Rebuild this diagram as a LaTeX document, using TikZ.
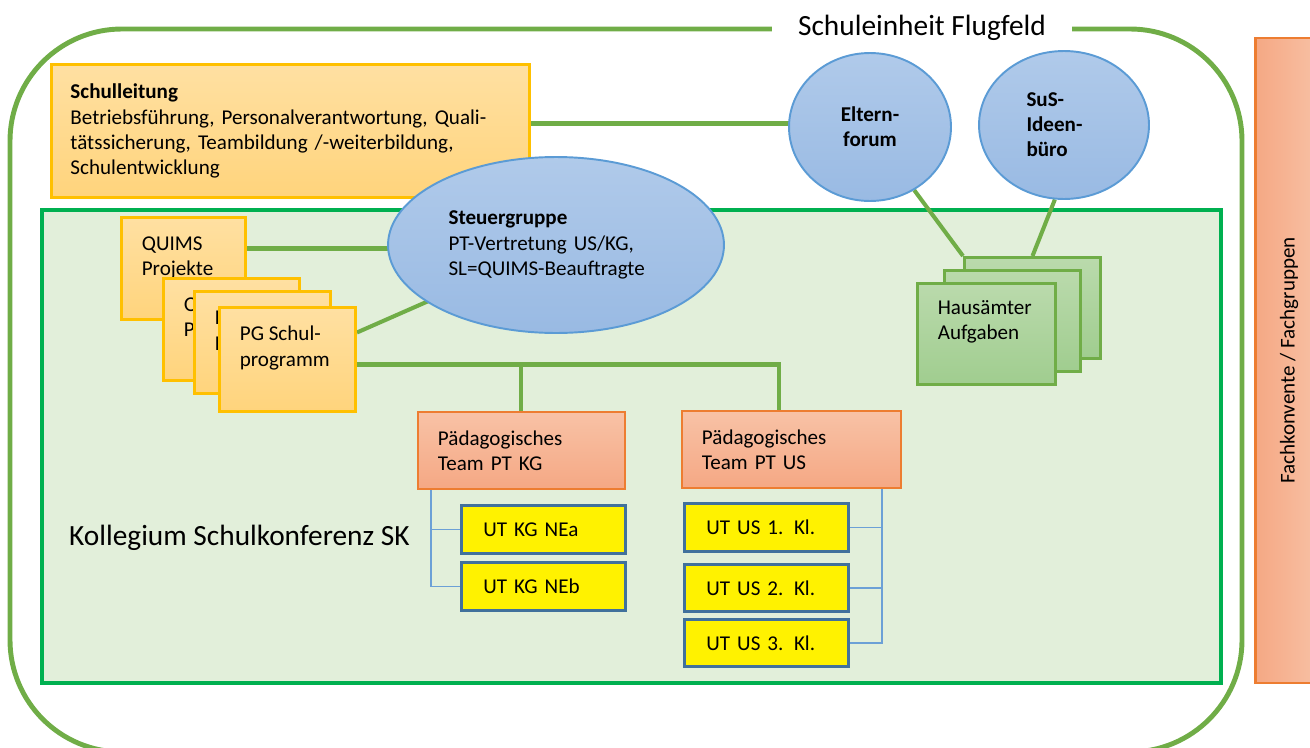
\documentclass[tikz,border=0pt]{standalone}
\usepackage{fontspec}
\setmainfont{Carlito}
\usetikzlibrary{shapes.geometric, positioning, calc}

\definecolor{framegreen}{RGB}{112,173,71}
\definecolor{innergreen}{RGB}{0,176,80}
\definecolor{innerfill}{RGB}{226,239,218}
\definecolor{boxorange}{RGB}{255,192,0}
\definecolor{orangetop}{RGB}{255,224,162}
\definecolor{orangebot}{RGB}{255,212,124}
\definecolor{ellblue}{RGB}{91,155,213}
\definecolor{elltop}{RGB}{176,202,234}
\definecolor{ellbot}{RGB}{153,186,227}
\definecolor{hgreentop}{RGB}{186,218,172}
\definecolor{hgreenbot}{RGB}{160,205,143}
\definecolor{salmonline}{RGB}{237,125,49}
\definecolor{salmontop}{RGB}{248,194,166}
\definecolor{salmonbot}{RGB}{245,168,132}
\definecolor{utline}{RGB}{65,113,156}
\definecolor{linkblue}{RGB}{108,160,214}

\newcommand{\basefont}{\fontsize{12}{14.3}\selectfont}
\newcommand{\bigfont}{\fontsize{16.7}{19}\selectfont}

\pgfdeclarelayer{bg}
\pgfdeclarelayer{links}
\pgfsetlayers{bg,links,main}

\tikzset{
  conn/.style={draw=framegreen, line width=2.3pt},
  tlink/.style={draw=linkblue, line width=0.9pt},
  orangebox/.style={draw=boxorange, line width=1.7pt, top color=orangetop,
    bottom color=orangebot, anchor=north west, inner sep=0pt},
  qbox/.style={orangebox, minimum width=2.72cm, minimum height=2.04cm},
  hbox/.style={draw=framegreen, line width=1.7pt, top color=hgreentop,
    bottom color=hgreenbot, anchor=north west, inner sep=0pt,
    minimum width=2.72cm, minimum height=2.02cm},
  boxlbl/.style={anchor=north west, align=left, inner sep=0pt,
    xshift=0.43cm, yshift=-0.4cm},
  bubble/.style={ellipse, draw=ellblue, line width=1.1pt, top color=elltop,
    bottom color=ellbot, inner sep=0pt},
  ptbox/.style={draw=salmonline, line width=1.1pt, top color=salmontop,
    bottom color=salmonbot, anchor=north west, align=left,
    minimum height=1.54cm, inner sep=0pt},
  utbox/.style={draw=utline, line width=1.6pt, fill=yellow, anchor=north west,
    align=left, minimum width=3.28cm, minimum height=0.96cm, inner sep=0pt,
    text width=2.4cm}
}

\begin{document}
\begin{tikzpicture}[x=0.02cm, y=-0.02cm, font=\basefont]
\useasboundingbox (0,0) rectangle (1310,747);

% Schulleitung und Gremien
\node[orangebox, minimum width=9.56cm, minimum height=2.66cm, text width=8.8cm,
      align=left] (sl) at (50,63)
  {\textbf{Schulleitung}\\Betriebsführung, Personalverantwortung, Quali-\\tätssicherung, Teambildung /-weiterbildung,\\Schulentwicklung};
\node[bubble, minimum width=6.72cm, minimum height=3.52cm, text width=4.3cm,
      align=left] (steuer) at (556,245)
  {\textbf{Steuergruppe}\\PT-Vertretung US/KG,\\SL=QUIMS-Beauftragte};
\node[bubble, minimum width=3.24cm, minimum height=2.96cm, align=center,
      font=\basefont\bfseries] (eltern) at (870,127) {Eltern-\\forum};
\node[bubble, minimum width=3.4cm, minimum height=2.96cm, text width=1.5cm,
      align=left, font=\basefont\bfseries] (sus) at (1064,125) {SuS-\\Ideen-\\büro};

% Projektgruppen
\node[qbox, minimum width=2.48cm, label={[boxlbl]north west:QUIMS\\Projekte}] (q1) at (120,216) {};
\node[qbox, label={[boxlbl]north west:QUIMS\\Projekte}] (q2) at (162,277) {};
\node[qbox, label={[boxlbl]north west:PG Schul-\\Programm}] (q3) at (193,290) {};
\node[qbox, minimum height=2.08cm, label={[boxlbl]north west:PG Schul-\\programm}] (q4) at (218,306) {};

% Hausaemter
\node[hbox] (h3) at (963,256) {};
\node[hbox] (h2) at (943,269) {};
\node[hbox, minimum width=2.76cm, label={[boxlbl, yshift=0.04cm]north west:Hausämter\\Aufgaben}] (h1) at (916,282) {};

% Paedagogische Teams
\node[ptbox, minimum width=4.14cm, text width=3.34cm] (ptkg) at (417,411) {Pädagogisches\\Team PT KG};
\node[ptbox, minimum width=4.38cm, text width=3.58cm] (ptus) at (681,410) {Pädagogisches\\Team PT US};

\node[utbox] (nea) at (460,504) {UT KG NEa};
\node[utbox] (neb) at (460,561) {UT KG NEb};
\node[utbox] (us1) at (683,502) {UT US 1. Kl.};
\node[utbox, minimum height=0.94cm] (us2) at (683,563) {UT US 2. Kl.};
\node[utbox, minimum height=0.94cm] (us3) at (683,618) {UT US 3. Kl.};

\node[anchor=west, font=\bigfont] (kollegium) at (63,538) {Kollegium Schulkonferenz SK};

% Fachkonvente
\node[rotate=90, draw=salmonline, line width=1.3pt, left color=salmonbot,
      right color=salmontop, minimum width=12.9cm, minimum height=1.34cm,
      font=\fontsize{12}{14}\selectfont] (fach) at (1289,360.5)
  {Fachkonvente / Fachgruppen};

% Rahmen
\begin{pgfonlayer}{bg}
  \draw[framegreen, line width=2.8pt, rounded corners=2.24cm] (10,29) rectangle (1242,752);
  \node[fill=white, inner xsep=0.52cm, inner ysep=0.1cm, font=\bigfont] (einheit)
    at (922,28) {Schuleinheit Flugfeld};
  \draw[innergreen, fill=innerfill, line width=2pt] (42,210) rectangle (1221,683);
\end{pgfonlayer}

% Verbindungen
\begin{pgfonlayer}{links}
  \coordinate (slout) at ([yshift=0.15cm]sl.east);
  \draw[conn] (slout) -- (slout -| eltern.center);
  \coordinate (qout) at ([yshift=0.4cm]q1.east);
  \draw[conn] (qout) -- (qout -| steuer.center);
  \draw[conn] ([yshift=0.54cm]q4.east) -- (steuer.center);
  \coordinate (bus) at ([yshift=-0.1cm]q4.east);
  \draw[conn] (bus) -| ([xshift=-0.25cm]ptus.north);
  \draw[conn] (bus -| ptkg.north) -- (ptkg.north);
  \draw[conn] (eltern.-55) -- (h3.north west);
  \draw[conn] (sus.-97) -- (h3.north);

  \draw[tlink] ([xshift=0.28cm]ptkg.south west) |- (nea.west);
  \draw[tlink] ([xshift=0.28cm]ptkg.south west) |- (neb.west);
  \draw[tlink] ([xshift=-0.4cm]ptus.south east) |- (us1.east);
  \draw[tlink] ([xshift=-0.4cm]ptus.south east) |- (us2.east);
  \draw[tlink] ([xshift=-0.4cm]ptus.south east) |- (us3.east);
\end{pgfonlayer}
\end{tikzpicture}
\end{document}
